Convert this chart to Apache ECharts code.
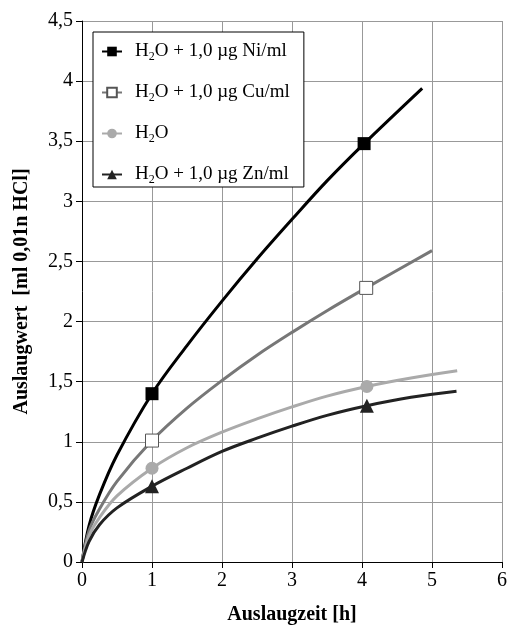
<!DOCTYPE html>
<html>
<head>
<meta charset="utf-8">
<script src="https://cdn.jsdelivr.net/npm/echarts@6/dist/echarts.min.js"></script>
<style>
html, body { margin: 0; padding: 0; background: #fff; }
#main { width: 510px; height: 630px; }
</style>
</head>
<body>
<div id="main"></div>
<script>
// Werte
const niX = [0, 0.1, 0.25, 0.5, 1, 1.5, 2, 2.5, 3, 3.5, 4.03, 4.86];
const niY = [0, 0.3, 0.56, 0.89, 1.4, 1.8, 2.17, 2.52, 2.85, 3.17, 3.48, 3.94];
const cuX = [0, 0.1, 0.25, 0.5, 1, 1.5, 2, 2.5, 3, 3.5, 4.06, 5.0];
const cuY = [0, 0.26, 0.44, 0.67, 1.01, 1.28, 1.51, 1.72, 1.91, 2.09, 2.28, 2.59];
const h2oX = [0, 0.1, 0.25, 0.5, 1, 1.5, 2, 2.5, 3, 3.5, 4.07, 4.7, 5.36];
const h2oY = [0, 0.22, 0.37, 0.55, 0.78, 0.95, 1.08, 1.19, 1.29, 1.38, 1.46, 1.53, 1.59];
const znX = [0, 0.1, 0.25, 0.5, 1, 1.5, 2, 2.5, 3, 3.5, 4.07, 4.7, 5.35];
const znY = [0, 0.17, 0.31, 0.45, 0.63, 0.78, 0.92, 1.03, 1.13, 1.22, 1.3, 1.37, 1.42];
// Messpunkte mit Markierung
const niMarks = [1, 4.03];
const cuMarks = [1, 4.06];
const h2oMarks = [1, 4.07];
const znMarks = [1, 4.07];

const names = ['H₂O + 1,0 µg Ni/ml', 'H₂O + 1,0 µg Cu/ml', 'H₂O', 'H₂O + 1,0 µg Zn/ml'];

const serif = '"Liberation Serif", "DejaVu Serif", serif';

function buildData(xs, ys, marks) {
	return xs.map((x, i) => {
		if (marks.indexOf(x) >= 0) return { value: [x, ys[i]] };
		return { value: [x, ys[i]], symbol: 'none' };
	});
}

function makeSeries(name, xs, ys, marks, color, symbol, size, itemStyle) {
	return {
		name: name,
		type: 'line',
		smooth: 0.35,
		symbol: symbol,
		symbolSize: size,
		showSymbol: true,
		lineStyle: { color: color, width: 3 },
		itemStyle: itemStyle,
		data: buildData(xs, ys, marks),
		z: 3
	};
}

let myChart = echarts.init(document.getElementById('main'));

let option = {
	animation: false,
	backgroundColor: '#fff',
	grid: { left: 82, right: 7, top: 21, bottom: 58 },
	legend: {
		orient: 'vertical',
		left: 93,
		top: 32,
		padding: [10, 14, 1, 8],
		itemGap: 20,
		itemWidth: 20,
		itemHeight: 12,
		backgroundColor: '#fff',
		borderColor: '#000',
		borderWidth: 1,
		data: names,
		formatter: function (name) {
			let parts = name.split('₂');
			return '{a|H}{s|2}{n|' + parts[1] + '}';
		},
		textStyle: {
			fontFamily: serif,
			fontSize: 19,
			color: '#000',
			rich: {
				a: { fontFamily: serif, fontSize: 19, lineHeight: 20, color: '#000', padding: [0, 0, 0, 8] },
				n: { fontFamily: serif, fontSize: 19, lineHeight: 20, color: '#000' },
				s: { fontFamily: serif, fontSize: 12, color: '#000', padding: [11, 0, 0, 0] }
			}
		}
	},
	xAxis: {
		type: 'value',
		min: 0,
		max: 6,
		interval: 1,
		name: 'Auslaugzeit [h]',
		nameLocation: 'middle',
		nameGap: 43,
		nameTextStyle: { fontFamily: serif, fontSize: 20, fontWeight: 'bold', color: '#000' },
		axisLine: { show: true, lineStyle: { color: '#000', width: 1 } },
		axisTick: { show: true, length: 6, lineStyle: { color: '#000' } },
		axisLabel: { fontFamily: serif, fontSize: 20, color: '#000', margin: 9 },
		splitLine: { show: true, lineStyle: { color: '#999', width: 1 } }
	},
	yAxis: {
		type: 'value',
		min: 0,
		max: 4.5,
		interval: 0.5,
		name: 'Auslaugwert  [ml 0,01n HCl]',
		nameLocation: 'middle',
		nameGap: 50,
		nameTextStyle: { fontFamily: serif, fontSize: 20, fontWeight: 'bold', color: '#000' },
		axisLine: { show: true, lineStyle: { color: '#000', width: 1 } },
		axisTick: { show: true, length: 6, lineStyle: { color: '#000' } },
		axisLabel: {
			fontFamily: serif, fontSize: 20, color: '#000', margin: 9,
			formatter: v => String(v).replace('.', ',')
		},
		splitLine: { show: true, lineStyle: { color: '#999', width: 1 } }
	},
	series: [
		makeSeries(names[0], niX, niY, niMarks, '#000', 'rect', 13, { color: '#000' }),
		makeSeries(names[1], cuX, cuY, cuMarks, '#777', 'rect', 13, { color: '#fff', borderColor: '#555', borderWidth: 1 }),
		makeSeries(names[2], h2oX, h2oY, h2oMarks, '#aaa', 'circle', 13, { color: '#aaa' }),
		makeSeries(names[3], znX, znY, znMarks, '#222', 'triangle', 14, { color: '#222' })
	]
};

myChart.setOption(option);
</script>
</body>
</html>
